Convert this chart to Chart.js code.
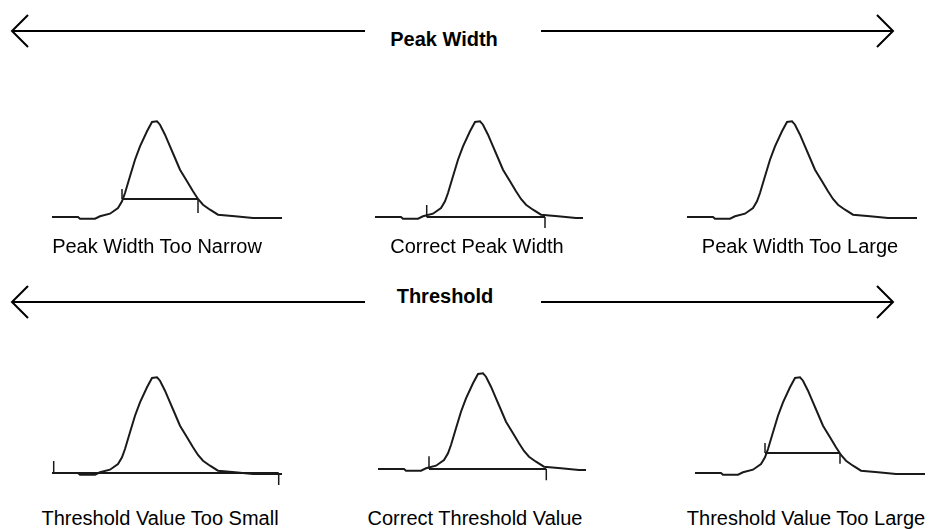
<!DOCTYPE html>
<html>
<head>
<meta charset="utf-8">
<script src="https://cdn.jsdelivr.net/npm/chart.js@4.4.1/dist/chart.umd.min.js"></script>
<style>
  body { margin: 0; background: #fff; width: 937px; height: 529px; overflow: hidden; position: relative; font-family: "Liberation Sans", Arial, sans-serif; }
  .panel { position: absolute; }
  .label { position: absolute; font-size: 20px; line-height: 20px; white-space: nowrap; color: #000; transform: translateX(-50%); }
  .heading { position: absolute; font-size: 20px; line-height: 20px; font-weight: bold; white-space: nowrap; color: #000; transform: translateX(-50%); }
  svg { position: absolute; left: 0; top: 0; }
</style>
</head>
<body>
<svg width="937" height="529" id="arrows"></svg>
<div id="stage"></div>

<script>
// Peak profile (time vs signal above baseline), same shape for every panel
const peakTime   = [0, 26, 28, 43, 48, 58, 66, 70, 73, 78, 83, 88, 95, 100, 105, 108, 113, 118, 123, 128, 135, 141, 146, 151, 158, 166, 183, 201, 208, 230];
const peakSignal = [0, 0, -1.7, -1.7, 0.7, 3.3, 9, 15.7, 24, 40.7, 57.3, 70.7, 85.7, 95, 95.7, 92.3, 82.3, 70.7, 59, 47.3, 35.7, 25.7, 18, 12.3, 7.3, 2.3, 0.7, -1, -1, -1];

// Panels
const panelTitles = [
  "Peak Width Too Narrow", "Correct Peak Width", "Peak Width Too Large",
  "Threshold Value Too Small", "Correct Threshold Value", "Threshold Value Too Large"
];
const panelEnd       = [230, 208, 230, 230, 208, 230];
const integStart     = [70, 51.7, null, 1.7, 51, 70];
const integEnd       = [146, 170, null, 226.7, 168.3, 145];
const integLevel     = [18, 0, null, 0, 0, 20];
const startTickLen   = [10, 12, null, 12, 12.7, 10];
const endTickLen     = [14, 11, null, 12, 11.3, 10.7];

// Section headings
const headings = ["Peak Width", "Threshold"];

// Layout (pixels)
const panelX    = [52, 375, 687, 51.7, 378.3, 695];
const panelBase = [217.3, 217.3, 217.3, 473.3, 469.3, 473.3];
const labelX    = [157, 477, 800, 160, 475, 806];
const labelTop  = [236, 236, 236, 508, 508, 508];
const headingX  = [444, 445];
const headingTop = [29, 286];
const arrowY    = [31, 302];

const PAD = 4;
const Y_MIN = -15, Y_MAX = 100;
const LINE = "#1a1a1a";

function drawArrows() {
  const svg = document.getElementById("arrows");
  let html = "";
  arrowY.forEach(y => {
    html += `<line x1="12" y1="${y}" x2="365" y2="${y}" stroke="#000" stroke-width="2"/>`;
    html += `<line x1="541" y1="${y}" x2="893" y2="${y}" stroke="#000" stroke-width="2"/>`;
    html += `<polyline points="28,${y - 16} 12,${y} 28,${y + 16}" fill="none" stroke="#000" stroke-width="2"/>`;
    html += `<polyline points="877,${y - 16} 893,${y} 877,${y + 16}" fill="none" stroke="#000" stroke-width="2"/>`;
  });
  svg.innerHTML = html;
}

function lineSet(points, width) {
  return {
    data: points,
    borderColor: LINE,
    borderWidth: width,
    pointRadius: 0,
    tension: 0,
    fill: false,
    clip: false
  };
}

function renderPanel(i) {
  const stage = document.getElementById("stage");
  const box = document.createElement("div");
  box.className = "panel";
  box.style.left = (panelX[i] - PAD) + "px";
  box.style.top = (panelBase[i] - Y_MAX - PAD) + "px";
  box.style.width = (230 + PAD * 2) + "px";
  box.style.height = (Y_MAX - Y_MIN + PAD * 2) + "px";
  const canvas = document.createElement("canvas");
  box.appendChild(canvas);
  stage.appendChild(box);

  const profile = [];
  peakTime.forEach((t, k) => {
    if (t <= panelEnd[i]) profile.push({ x: t, y: peakSignal[k] });
  });

  const datasets = [lineSet(profile, 2)];

  if (integStart[i] !== null) {
    const s = integStart[i], e = integEnd[i], lv = integLevel[i];
    datasets.push(lineSet([{ x: s, y: lv }, { x: e, y: lv }], 2));
    datasets.push(lineSet([{ x: s, y: lv }, { x: s, y: lv + startTickLen[i] }], 1.5));
    datasets.push(lineSet([{ x: e, y: lv }, { x: e, y: lv - endTickLen[i] }], 1.5));
  }

  new Chart(canvas.getContext("2d"), {
    type: "line",
    data: { datasets },
    options: {
      responsive: true,
      maintainAspectRatio: false,
      animation: false,
      layout: { padding: PAD },
      plugins: { legend: { display: false }, tooltip: { enabled: false } },
      scales: {
        x: { type: "linear", min: 0, max: 230, display: false },
        y: { type: "linear", min: Y_MIN, max: Y_MAX, display: false }
      }
    }
  });

  const label = document.createElement("div");
  label.className = "label";
  label.textContent = panelTitles[i];
  label.style.left = labelX[i] + "px";
  label.style.top = labelTop[i] + "px";
  stage.appendChild(label);
}

function renderHeadings() {
  const stage = document.getElementById("stage");
  headings.forEach((text, i) => {
    const h = document.createElement("div");
    h.className = "heading";
    h.textContent = text;
    h.style.left = headingX[i] + "px";
    h.style.top = headingTop[i] + "px";
    stage.appendChild(h);
  });
}

drawArrows();
renderHeadings();
panelTitles.forEach((_, i) => renderPanel(i));
</script>
</body>
</html>
